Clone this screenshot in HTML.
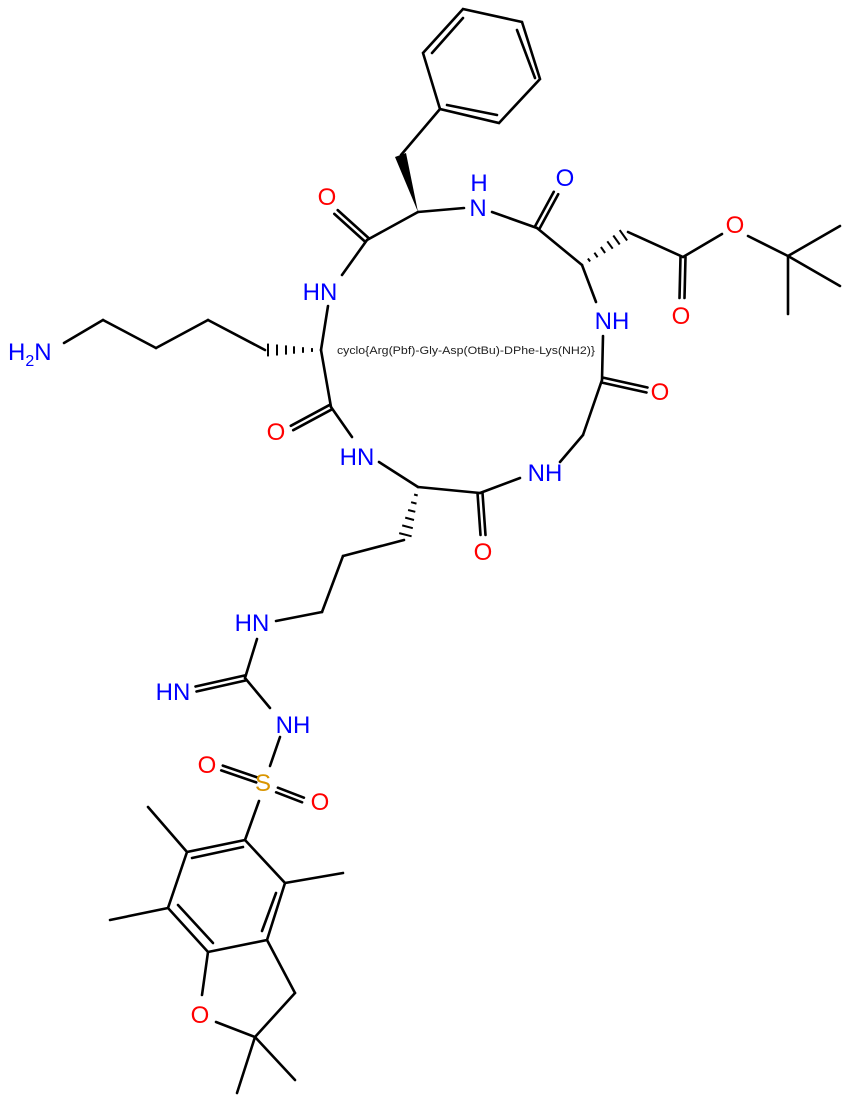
<!DOCTYPE html>
<html><head><meta charset="utf-8"><style>
html,body{margin:0;padding:0;background:#fff;}
svg{display:block;}
text{font-family:"Liberation Sans",sans-serif;font-size:24px;text-anchor:middle;}
.b{fill:#0000ff}.r{fill:#ff0000}.s{fill:#d99500}
</style></head><body>
<svg width="849" height="1103" viewBox="0 0 849 1103" xmlns="http://www.w3.org/2000/svg">
<g stroke="#000" stroke-width="2.6" fill="none" stroke-linecap="round">
<!-- phenyl -->
<polyline points="463,9 522,22 540,79 499,123 440,109 423,53 463,9"/>
<line x1="432" y1="53" x2="463" y2="18"/>
<line x1="517" y1="30" x2="535" y2="78"/>
<line x1="447" y1="105" x2="497" y2="115"/>
<line x1="440" y1="109" x2="401" y2="155"/>
<!-- Phe Ca -->
<line x1="418" y1="212" x2="367" y2="240"/>
<line x1="368.7" y1="238.1" x2="337.7" y2="210.1"/>
<line x1="365.3" y1="241.9" x2="334.3" y2="213.9"/>
<line x1="418" y1="212" x2="464" y2="208"/>
<line x1="492" y1="212" x2="537" y2="228"/>
<line x1="539.2" y1="229.2" x2="558.2" y2="194.2"/>
<line x1="534.8" y1="226.8" x2="553.8" y2="191.8"/>
<line x1="537" y1="228" x2="582" y2="265"/>
<!-- Asp side -->
<line x1="628" y1="232" x2="683" y2="257"/>
<line x1="680.5" y1="257" x2="679.5" y2="298"/>
<line x1="685.5" y1="257" x2="684.5" y2="298"/>
<line x1="683" y1="257" x2="722" y2="234"/>
<line x1="748" y1="236" x2="788" y2="256"/>
<line x1="788" y1="256" x2="840" y2="226"/>
<line x1="788" y1="256" x2="840" y2="286"/>
<line x1="788" y1="256" x2="788" y2="314"/>
<line x1="582" y1="265" x2="596" y2="302"/>
<line x1="603" y1="336" x2="602" y2="380"/>
<line x1="601.5" y1="382.5" x2="646.5" y2="392.5"/>
<line x1="602.5" y1="377.5" x2="647.5" y2="387.5"/>
<line x1="602" y1="380" x2="583" y2="435"/>
<line x1="583" y1="435" x2="560" y2="462"/>
<line x1="520" y1="478" x2="480" y2="493"/>
<line x1="477.5" y1="493" x2="480.5" y2="535"/>
<line x1="482.5" y1="493" x2="485.5" y2="535"/>
<line x1="480" y1="493" x2="418" y2="487"/>
<line x1="418" y1="487" x2="379" y2="462"/>
<line x1="352" y1="437" x2="331" y2="407"/>
<line x1="332.2" y1="409.2" x2="293.2" y2="430.2"/>
<line x1="329.8" y1="404.8" x2="290.8" y2="425.8"/>
<line x1="331" y1="407" x2="321" y2="350"/>
<line x1="321" y1="350" x2="328" y2="306"/>
<line x1="342" y1="275" x2="367" y2="240"/>
<!-- Lys chain -->
<line x1="265" y1="350" x2="208" y2="320"/>
<line x1="208" y1="320" x2="156" y2="348"/>
<line x1="156" y1="348" x2="103" y2="320"/>
<line x1="103" y1="320" x2="64" y2="343"/>
<!-- Arg chain -->
<line x1="404" y1="540" x2="343" y2="556"/>
<line x1="343" y1="556" x2="322" y2="612"/>
<line x1="322" y1="612" x2="276" y2="621"/>
<line x1="257" y1="639" x2="245" y2="678"/>
<line x1="245.5" y1="680.5" x2="196.5" y2="691.5"/>
<line x1="244.5" y1="675.5" x2="195.5" y2="686.5"/>
<line x1="245" y1="678" x2="270" y2="708"/>
<line x1="280" y1="737" x2="270" y2="766"/>
<line x1="257.8" y1="777.6" x2="222.8" y2="765.6"/>
<line x1="256.2" y1="782.4" x2="221.2" y2="770.4"/>
<line x1="276.1" y1="792.3" x2="302.1" y2="802.3"/>
<line x1="277.9" y1="787.7" x2="303.9" y2="797.7"/>
<line x1="259" y1="801" x2="245" y2="840"/>
<!-- Pbf ring -->
<polyline points="245,840 285,883 267,940 208,952 168,908 187,852 245,840"/>
<line x1="192" y1="858" x2="243" y2="847"/>
<line x1="276" y1="893" x2="262" y2="931"/>
<line x1="178" y1="905" x2="213" y2="943"/>
<line x1="187" y1="852" x2="148" y2="807"/>
<line x1="168" y1="908" x2="110" y2="920"/>
<line x1="285" y1="883" x2="343" y2="873"/>
<line x1="208" y1="952" x2="202" y2="995"/>
<line x1="267" y1="940" x2="295" y2="993"/>
<line x1="295" y1="993" x2="255" y2="1037"/>
<line x1="216" y1="1022" x2="255" y2="1037"/>
<line x1="255" y1="1037" x2="237" y2="1093"/>
<line x1="255" y1="1037" x2="295" y2="1080"/>
</g>
<polygon points="418,212 395,157 406,153" fill="#000"/>
<g stroke="#000" stroke-width="2">
<line x1="587.9" y1="258.5" x2="590.1" y2="261.5"/>
<line x1="594.4" y1="252.7" x2="597.6" y2="257.3"/>
<line x1="600.9" y1="247" x2="605.1" y2="253"/>
<line x1="607.3" y1="241.3" x2="612.7" y2="248.7"/>
<line x1="613.3" y1="235.5" x2="619.7" y2="244.5"/>
<line x1="619.7" y1="230.1" x2="627.1" y2="240.5"/>
<line x1="414.1" y1="494.5" x2="417.7" y2="495.5"/>
<line x1="411.1" y1="502.2" x2="416.5" y2="503.6"/>
<line x1="408.1" y1="510" x2="415.3" y2="511.8"/>
<line x1="405.2" y1="517.6" x2="414" y2="520"/>
<line x1="402.2" y1="525.4" x2="412.8" y2="528.2"/>
<line x1="399.2" y1="533.1" x2="411.6" y2="536.3"/>
<line x1="312" y1="348.1" x2="312" y2="351.9"/>
<line x1="303" y1="347.2" x2="303" y2="352.8"/>
<line x1="294" y1="346.3" x2="294" y2="353.7"/>
<line x1="286" y1="345.4" x2="286" y2="354.6"/>
<line x1="277" y1="344.5" x2="277" y2="355.5"/>
<line x1="268" y1="343.6" x2="268" y2="356.4"/>
</g>
<text x="327" y="205" class="r">O</text>
<text x="479" y="191" class="b">H</text>
<text x="478" y="216" class="b">N</text>
<text x="565" y="186" class="b">O</text>
<text x="735" y="233" class="r">O</text>
<text x="681" y="324" class="r">O</text>
<text x="320" y="300" class="b">HN</text>
<text x="612" y="329" class="b">NH</text>
<text x="660" y="400" class="r">O</text>
<text x="8" y="360" class="b" style="text-anchor:start">H<tspan font-size="16" dy="6">2</tspan><tspan dy="-6">N</tspan></text>
<text x="276" y="440" class="r">O</text>
<text x="357" y="465" class="b">HN</text>
<text x="545" y="481" class="b">NH</text>
<text x="483" y="560" class="r">O</text>
<text x="252" y="631" class="b">HN</text>
<text x="173" y="700" class="b">HN</text>
<text x="293" y="733" class="b">NH</text>
<text x="263" y="791" class="s">S</text>
<text x="207" y="773" class="r">O</text>
<text x="320" y="810" class="r">O</text>
<text x="200" y="1023" class="r">O</text>
<text x="337" y="354" style="font-size:11px;text-anchor:start;fill:#222" textLength="258" lengthAdjust="spacingAndGlyphs">cyclo{Arg(Pbf)-Gly-Asp(OtBu)-DPhe-Lys(NH2)}</text>
</svg>
</body></html>
